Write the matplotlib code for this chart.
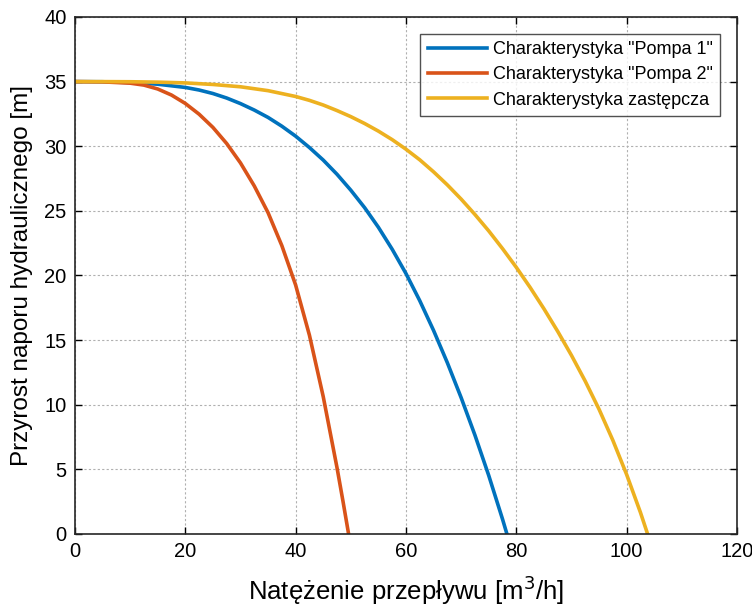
import matplotlib
matplotlib.use("Agg")
import matplotlib.pyplot as plt

plt.rcParams['font.family'] = ['Liberation Sans', 'DejaVu Sans']

# Pompa 1 (blue)
q_p1 = [0, 5, 10, 15, 20, 22.5, 25, 27.5, 30, 32.5, 35, 37.5, 40, 42.5, 45, 47.5, 50, 52.5, 55,
        57.5, 60, 62.5, 65, 67.5, 70, 72.5, 75, 77.5, 78.3]
h_p1 = [35, 34.99, 34.93, 34.8, 34.55, 34.35, 34.08, 33.73, 33.3, 32.8, 32.23, 31.55, 30.78, 29.9, 28.93, 27.83,
        26.6, 25.25, 23.73, 22.03, 20.15, 18.05, 15.75, 13.25, 10.55, 7.65, 4.53, 1.15, 0.0]

# Pompa 2 (red)
q_p2 = [0, 5, 10, 12.5, 15, 17.5, 20, 22.5, 25, 27.5, 30, 32.5, 35, 37.5, 40, 42.5, 45, 47.5, 48.6, 49.6]
h_p2 = [35, 34.98, 34.88, 34.73, 34.43, 33.96, 33.31, 32.48, 31.46, 30.21, 28.71, 26.93, 24.86, 22.31, 19.26, 15.38,
        10.63, 5.13, 2.49, 0.0]

# Charakterystyka zastepcza (yellow)
q_z = [0, 5, 10, 15, 20, 25, 30, 35, 40, 42.5, 45, 47.5, 50, 52.5, 55, 57.5, 60, 62.5, 65, 67.5, 70,
       72.5, 75, 77.5, 80, 82.5, 85, 87.5, 90, 92.5, 95, 97.5, 100, 102.5, 103.8]
h_z = [35, 35.0, 34.99, 34.96, 34.9, 34.78, 34.6, 34.3, 33.85, 33.55, 33.19, 32.76, 32.29, 31.76, 31.17, 30.51,
       29.77, 28.95, 28.02, 27.01, 25.91, 24.72, 23.45, 22.08, 20.63, 19.08, 17.43, 15.68, 13.82, 11.82, 9.65,
       7.25, 4.6, 1.67, 0.0]

labels = ['Charakterystyka "Pompa 1"', 'Charakterystyka "Pompa 2"', 'Charakterystyka zastępcza']
colors = ['#0072BD', '#D95319', '#EDB120']

fig = plt.figure(figsize=(7.52, 6.07), dpi=100)
ax = fig.add_axes([0.0997, 0.1203, 0.8803, 0.8517])

for q, h, lab, c in zip([q_p1, q_p2, q_z], [h_p1, h_p2, h_z], labels, colors):
    ax.plot(q, h, color=c, lw=2.6, label=lab, solid_joinstyle='round')

ax.set_xlim(0, 120)
ax.set_ylim(0, 40)
ax.set_xticks(range(0, 121, 20))
ax.set_yticks(range(0, 41, 5))
ax.grid(True, color='#b0b0b0', linestyle=(0, (2, 2)), linewidth=0.8)
ax.tick_params(direction='in', length=5, labelsize=14.5, width=1, top=True, right=True,
               labeltop=False, labelright=False, pad=6)
for s in ax.spines.values():
    s.set_linewidth(1.2)
    s.set_color('#262626')

ax.set_xlabel('Natężenie przepływu [m$^3$/h]', fontsize=18.5, labelpad=9)
ax.set_ylabel('Przyrost naporu hydraulicznego [m]', fontsize=17.5, labelpad=8)

leg = ax.legend(loc='upper right', fontsize=13, frameon=True, fancybox=False,
                edgecolor='#262626', handlelength=3.3, borderaxespad=0.95,
                handletextpad=0.3, labelspacing=0.45, borderpad=0.4)
leg.get_frame().set_linewidth(1.0)

fig.savefig('out.png', dpi=100)
